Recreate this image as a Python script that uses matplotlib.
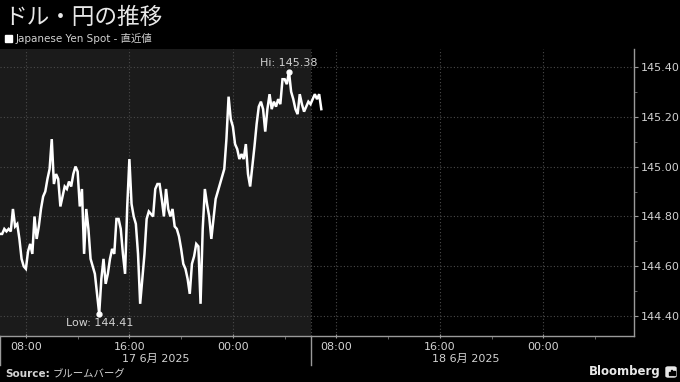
import numpy as np
import pandas as pd
import matplotlib
matplotlib.use("Agg")
import matplotlib.pyplot as plt
import matplotlib.dates as mdates
from matplotlib.patches import Rectangle, FancyBboxPatch

plt.rcParams['font.family'] = ['DejaVu Sans', 'Noto Sans CJK JP']

# --- datos (USD/JPY cada 10 minutos) ---
titulo = "ドル・円の推移"
leyenda = "Japanese Yen Spot - 直近値"
fuente = "ブルームバーグ"
inicio = "2025-06-17 06:00"
paso = "10min"
precios = [
    144.73, 144.73, 144.75, 144.74, 144.75, 144.74, 144.83, 144.76, 144.77, 144.71,
    144.63, 144.60, 144.59, 144.66, 144.69, 144.65, 144.80, 144.71, 144.76, 144.83,
    144.88, 144.90, 144.95, 144.99, 145.11, 144.93, 144.97, 144.95, 144.84, 144.88,
    144.92, 144.91, 144.94, 144.92, 144.97, 145.00, 144.98, 144.84, 144.91, 144.65,
    144.83, 144.75, 144.63, 144.60, 144.57, 144.49, 144.41, 144.55, 144.63, 144.53,
    144.57, 144.63, 144.67, 144.65, 144.79, 144.79, 144.75, 144.65, 144.57, 144.84,
    145.03, 144.85, 144.80, 144.77, 144.65, 144.45, 144.55, 144.65, 144.79, 144.82,
    144.81, 144.80, 144.91, 144.93, 144.93, 144.87, 144.80, 144.91, 144.83, 144.80,
    144.83, 144.76, 144.75, 144.72, 144.67, 144.61, 144.59, 144.55, 144.49, 144.61,
    144.64, 144.69, 144.68, 144.45, 144.75, 144.91, 144.85, 144.80, 144.71, 144.79,
    144.87, 144.90, 144.93, 144.96, 144.99, 145.11, 145.28, 145.19, 145.16, 145.09,
    145.07, 145.03, 145.05, 145.03, 145.09, 144.97, 144.92, 145.00, 145.08, 145.17,
    145.24, 145.26, 145.23, 145.14, 145.23, 145.29, 145.23, 145.26, 145.24, 145.27,
    145.25, 145.35, 145.35, 145.33, 145.38, 145.30, 145.27, 145.23, 145.21, 145.29,
    145.25, 145.22, 145.24, 145.26, 145.25, 145.27, 145.29, 145.27, 145.29, 145.23,
]
cortes_dia = ["2025-06-17 06:00", "2025-06-18 06:00"]
centros_dia = ["2025-06-17 18:00", "2025-06-18 18:00"]
etiquetas_dia = ["17 6月 2025", "18 6月 2025"]
limites_x = ["2025-06-17 06:00", "2025-06-19 07:00"]
marcas_y = [144.40, 144.60, 144.80, 145.00, 145.20, 145.40]

tiempos = pd.date_range(inicio, periods=len(precios), freq=paso)
precios = np.array(precios)

W, H = 680, 382
def px(x, y):
    return x / W, 1 - y / H

fig = plt.figure(figsize=(W / 100, H / 100), dpi=100, facecolor='black')
ax = fig.add_axes([0, 46 / H, 634 / W, 287 / H])
ax.set_facecolor('black')

gris_txt = '#d2d2d2'
rejilla = dict(color='#4a4a4a', linestyle=(0, (1, 2)), linewidth=0.8)

# zona de la sesion con datos
ax.axvspan(pd.Timestamp(cortes_dia[0]), pd.Timestamp(cortes_dia[1]),
           color='#1b1b1b', zorder=0, lw=0)
ax.axvline(pd.Timestamp(cortes_dia[1]), zorder=1, **rejilla)

ax.plot(tiempos, precios, color='white', lw=1.8, zorder=3, solid_joinstyle='miter')

# maximo y minimo
i_hi, i_lo = int(np.argmax(precios)), int(np.argmin(precios))
ax.plot([tiempos[i_hi], tiempos[i_lo]], [precios[i_hi], precios[i_lo]], 'o',
        color='white', ms=3.5, zorder=4)
ax.annotate(f"Hi: {precios[i_hi]:.2f}", (tiempos[i_hi], precios[i_hi]),
            xytext=(0, 3), textcoords='offset points', ha='center', va='bottom',
            color=gris_txt, fontsize=8)
ax.annotate(f"Low: {precios[i_lo]:.2f}", (tiempos[i_lo], precios[i_lo]),
            xytext=(0, -3), textcoords='offset points', ha='center', va='top',
            color=gris_txt, fontsize=8)

ax.set_xlim(pd.Timestamp(limites_x[0]), pd.Timestamp(limites_x[1]))
ax.set_ylim(144.321, 145.471)

ax.xaxis.set_major_locator(mdates.HourLocator(byhour=[0, 8, 16]))
ax.xaxis.set_minor_locator(mdates.HourLocator(byhour=[4, 12, 20]))
ax.xaxis.set_major_formatter(mdates.DateFormatter('%H:%M'))
ax.yaxis.tick_right()
ax.set_yticks(marcas_y)
ax.set_yticks(np.arange(144.5, 145.45, 0.2), minor=True)
ax.yaxis.set_major_formatter(matplotlib.ticker.FormatStrFormatter('%.2f'))

ax.tick_params(axis='x', which='major', colors='#999999', labelcolor=gris_txt,
               labelsize=8, length=3, direction='inout', pad=3)
ax.tick_params(axis='x', which='minor', colors='#777777', length=2, direction='out')
ax.tick_params(axis='y', which='major', colors='#999999', labelcolor=gris_txt,
               labelsize=8, length=3, direction='out', pad=2)
ax.tick_params(axis='y', which='minor', colors='#777777', length=2, direction='out')

ax.grid(True, which='major', **rejilla)

for lado in ['left', 'top']:
    ax.spines[lado].set_visible(False)
for lado in ['right', 'bottom']:
    ax.spines[lado].set_color('#9a9a9a')
    ax.spines[lado].set_linewidth(1.0)

# separadores de dia y etiquetas de fecha
trans = ax.get_xaxis_transform()
for c in cortes_dia:
    ax.plot([pd.Timestamp(c)] * 2, [0, -0.10], transform=trans, color='#9a9a9a',
            lw=1.0, clip_on=False)
for c, t in zip(centros_dia, etiquetas_dia):
    ax.text(pd.Timestamp(c), -0.08, t, transform=trans, ha='center', va='center',
            color=gris_txt, fontsize=8)

# textos de cabecera y pie
fig.text(*px(4, 17), titulo, family=['Noto Sans CJK JP'], fontsize=16.3,
         color='#e8e8e8', va='center', ha='left')
fig.patches.append(Rectangle(px(5, 42), 7 / W, 7 / H, transform=fig.transFigure,
                             color='white'))
fig.text(*px(16, 38), leyenda, fontsize=7.5, color=gris_txt, va='center', ha='left')
fig.text(*px(5, 374), "Source:", fontsize=7.5, color=gris_txt, weight='bold',
         va='center', ha='left')
fig.text(*px(53, 374), fuente, fontsize=7.5, color=gris_txt, va='center', ha='left')
fig.text(*px(661, 372), "Bloomberg", fontsize=8.5, color='#e8e8e8', weight='bold',
         va='center', ha='right')
fig.patches.append(FancyBboxPatch(px(666, 377), 10 / W, 10 / H,
                                  boxstyle='round,pad=0,rounding_size=0.003',
                                  transform=fig.transFigure, color='#e8e8e8'))
for bx, by, bh in [(668.5, 375, 3), (670.8, 375, 5), (673.1, 375, 4)]:
    fig.patches.append(Rectangle(px(bx, by), 1.4 / W, bh / H,
                                 transform=fig.transFigure, color='black'))

fig.savefig('out.png', dpi=100, facecolor='black')
